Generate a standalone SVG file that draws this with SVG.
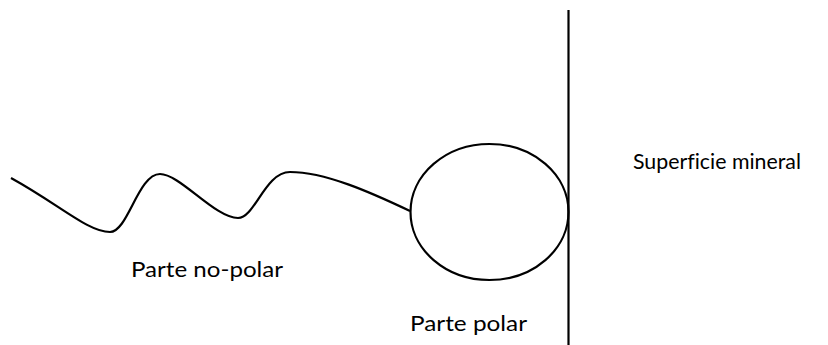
<svg xmlns="http://www.w3.org/2000/svg" width="828" height="345" viewBox="0 0 828 345">
<style>
.s{fill:none;stroke:#000;stroke-width:2.2}
.t{font-family:Lato,"Open Sans","Liberation Sans",sans-serif;font-size:22px;fill:#000;font-variant-ligatures:none}
</style>
<rect width="828" height="345" fill="#fff"/>
<g id="connectors">
<path id="tail" class="s" d="M11,178 C60,205 88,232 110,232 C128,232 138,174 160,174 C180,174 215,218 238,218 C255,218 265,172 290,172 C325,172 370,192 410,211"/>
</g>
<g id="head"><ellipse class="s" cx="489.5" cy="212" rx="79" ry="68"/></g>
<g id="surface"><line class="s" x1="568.5" y1="10" x2="568.5" y2="345"/></g>
<g id="labels">
<text class="t" x="131" y="277" textLength="152" lengthAdjust="spacingAndGlyphs">Parte no-polar</text>
<text class="t" x="410" y="331" textLength="117" lengthAdjust="spacingAndGlyphs">Parte polar</text>
<text class="t" x="633" y="169" textLength="168" lengthAdjust="spacingAndGlyphs">Superficie mineral</text>
</g>
</svg>
